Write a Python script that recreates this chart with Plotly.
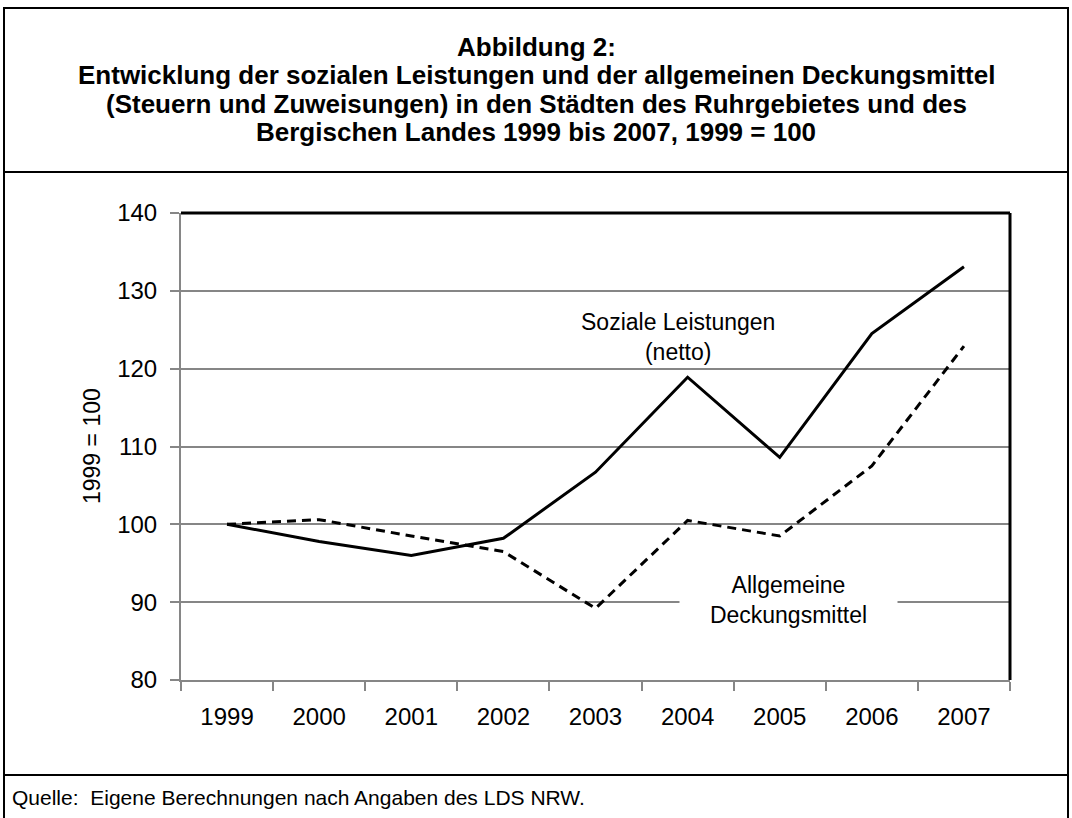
import plotly.graph_objects as go

years = ["1999", "2000", "2001", "2002", "2003", "2004", "2005", "2006", "2007"]
soziale = [100.0, 97.8, 96.0, 98.2, 106.7, 118.9, 108.6, 124.5, 133.1]
deckung = [100.0, 100.6, 98.5, 96.5, 89.2, 100.5, 98.5, 107.5, 122.9]
y_ticks = [80, 90, 100, 110, 120, 130, 140]
title_lines = [
    "Abbildung 2:",
    "Entwicklung der sozialen Leistungen und der allgemeinen Deckungsmittel",
    "(Steuern und Zuweisungen) in den Städten des Ruhrgebietes und des",
    "Bergischen Landes 1999 bis 2007, 1999 = 100",
]

W, H = 1072, 818
L, R, T, B = 181, 1010, 213, 680  # plot area in pixels


def px(x):
    return (x - L) / (R - L)


def py(y):
    return (B - y) / (B - T)


fig = go.Figure()
fig.add_trace(go.Scatter(x=years, y=soziale, mode="lines",
                         line=dict(color="black", width=3), showlegend=False))
fig.add_trace(go.Scatter(x=years, y=deckung, mode="lines",
                         line=dict(color="black", width=3, dash="9px,6px"), showlegend=False))

font = "Arial, Liberation Sans, sans-serif"
gray = "#868686"

fig.update_layout(
    width=W, height=H,
    margin=dict(l=L, r=W - R, t=T, b=H - B),
    paper_bgcolor="white", plot_bgcolor="white",
    font=dict(family=font, color="black"),
    xaxis=dict(type="category", range=[-0.5, 8.5], tickson="boundaries",
               ticks="outside", ticklen=9, tickwidth=2, tickcolor=gray,
               showline=True, linecolor=gray, linewidth=2, showgrid=False,
               ticklabelstandoff=14,
               tickfont=dict(size=24, family=font, color="black"), fixedrange=True),
    yaxis=dict(range=[80, 140], tickvals=y_ticks, ticks="outside", ticklen=9,
               tickwidth=2, tickcolor=gray, showline=True, linecolor=gray,
               linewidth=2, showgrid=True, gridcolor=gray, gridwidth=2,
               zeroline=False, ticklabelstandoff=8,
               tickfont=dict(size=24, family=font, color="black"),
               fixedrange=True),
)

shapes = []
# outer frame
shapes.append(dict(type="rect", xref="paper", yref="paper",
                   x0=px(4), x1=px(1068), y0=py(830), y1=py(8),
                   line=dict(color="black", width=2)))
# title separator and footer separator
for yy in (172, 775):
    shapes.append(dict(type="line", xref="paper", yref="paper",
                       x0=px(4), x1=px(1068), y0=py(yy), y1=py(yy),
                       line=dict(color="black", width=2)))
# plot top & right borders
shapes.append(dict(type="line", xref="paper", yref="paper", x0=0, x1=1, y0=1, y1=1,
                   line=dict(color="black", width=3)))
shapes.append(dict(type="line", xref="paper", yref="paper", x0=1, x1=1, y0=0, y1=1,
                   line=dict(color="black", width=3)))
fig.update_layout(shapes=shapes)

ann = []
for i, (line, yc) in enumerate(zip(title_lines, [47, 75, 104, 132])):
    ann.append(dict(text="<b>" + line + "</b>", xref="paper", yref="paper", x=px(536),
                    y=py(yc), xanchor="center", yanchor="middle", showarrow=False,
                    font=dict(size=26, family=font, color="black")))
ann += [
    dict(text="1999 = 100", xref="paper", yref="paper", x=px(92), y=py(446),
         xanchor="center", yanchor="middle",
         textangle=-90, showarrow=False, font=dict(size=23, family=font, color="black")),
    dict(text="Soziale Leistungen<br>(netto)", x=4.9, y=124.1, xref="x", yref="y",
         showarrow=False, font=dict(size=23, family=font, color="black")),
    dict(text="Allgemeine<br>Deckungsmittel", x=6.09, y=90.3, xref="x", yref="y",
         showarrow=False, bgcolor="white", width=215,
         font=dict(size=23, family=font, color="black")),
    dict(text="Quelle:  Eigene Berechnungen nach Angaben des LDS NRW.", xref="paper",
         yref="paper", x=px(10), y=py(797), xanchor="left", yanchor="middle",
         showarrow=False, font=dict(size=21, family=font, color="black")),
]
fig.update_layout(annotations=ann)

fig.write_html("out.html", config={"displayModeBar": False},
               post_script="document.body.style.margin='0px';")
